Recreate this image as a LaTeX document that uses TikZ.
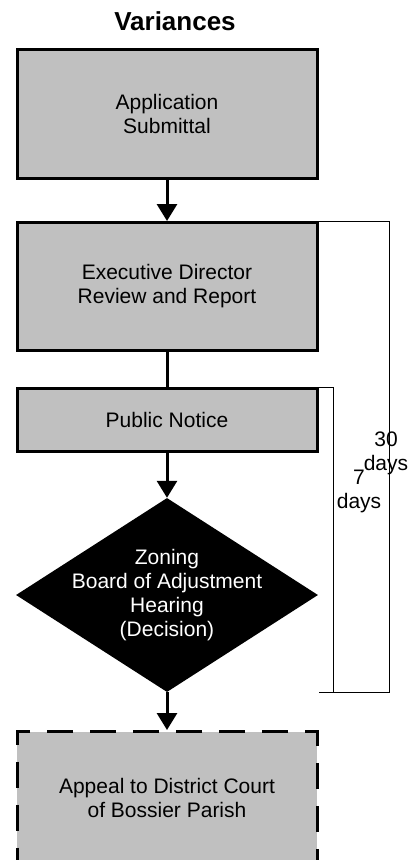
\documentclass[tikz,border=0pt]{standalone}
\usepackage{fontspec}
\setmainfont{Liberation Sans}
\usetikzlibrary{positioning, arrows.meta, shapes.geometric}
\definecolor{boxgray}{RGB}{192,192,192}
\newcommand{\stagefont}{\fontsize{21}{24}\selectfont}
\tikzset{% 
	>={Triangle[width=20pt,length=17pt]},
	every edge/.append style={line width=3pt},
	stage/.style = {name = #1, rectangle, draw, line width=3pt, fill=boxgray, minimum width=300pt, align=center, font=\stagefont},
	decision/.style = {name = #1, diamond, fill=black, minimum width=302pt, minimum height=194pt, inner sep=0pt},
	bracket/.style = {line width=1pt},
	days/.style = {align=center, font=\stagefont}
}
\begin{document}
\begin{tikzpicture}[x=1pt,y=-1pt]
			\useasboundingbox (0,0) rectangle (412,860);
			\node [font=\fontsize{26}{28}\selectfont\bfseries] (title) at (175,21) {Variances};
			\node [stage = {Submittal}, minimum height=129pt] at (167,114) {Application\\Submittal};
			\node [stage = {Review}, minimum height=128pt] at (167,286.5) {Executive Director\\Review and Report};
			\node [stage = {Notice}, minimum height=63pt] at (167,420) {Public Notice};
			\node [decision = {Hearing}, label={[text=white, align=center, font=\stagefont]center:{Zoning\\Board of Adjustment\\Hearing\\(Decision)}}] at (167,595) {};
			\node [stage = {Appeal}, minimum height=133pt, dash pattern=on 26pt off 17pt, dash phase=11pt] at (167,798) {Appeal to District Court\\of Bossier Parish};
			\path [->] (Submittal) edge (Review);
			\path [-] (Review) edge (Notice);
			\path [->] (Notice) edge (Hearing);
			\path [->] (Hearing) edge (Appeal);
			% time brackets
			\coordinate (hearingEnd) at (Hearing.south -| Notice.east);
			\draw [bracket] (Review.north east) -- ++(71,0) |- (hearingEnd);
			\draw [bracket] (Notice.north east) -- ++(15,0) |- (hearingEnd);
			\node [days] (days30) at (386,453) {30\\days};
			\node [days] (days7) at (359,491) {7\\days};
			\end{tikzpicture}
\end{document}
